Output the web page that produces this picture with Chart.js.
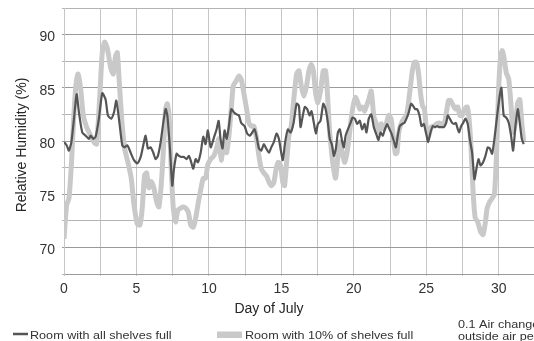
<!DOCTYPE html>
<html>
<head>
<meta charset="utf-8">
<script src="https://cdn.jsdelivr.net/npm/chart.js@4.4.1/dist/chart.umd.min.js"></script>
<style>
html,body{margin:0;padding:0;overflow:hidden;background:#fff;}
#wrap{width:540px;height:341px;position:relative;}
</style>
</head>
<body>
<div id="wrap"><canvas id="c"></canvas></div>
<script>
// ---- data ----
const seriesNames = ["Room with all shelves full", "Room with 10% of shelves full"];
const noteLines = ["0.1 Air changes of", "outside air per hour"];
const xTitle = "Day of July";
const yTitle = "Relative Humidity (%)";

const dayFull = [0.00,0.18,0.34,0.51,0.69,0.87,1.03,1.26,1.49,1.72,1.84,2.02,2.18,2.41,2.64,2.87,3.03,3.26,3.45,3.61,3.79,4.02,4.18,4.37,4.60,4.83,5.06,5.29,5.47,5.63,5.79,5.98,6.16,6.32,6.48,6.67,6.85,7.01,7.13,7.31,7.47,7.59,7.77,7.93,8.09,8.28,8.46,8.62,8.78,8.92,9.08,9.24,9.43,9.61,9.77,9.93,10.12,10.34,10.53,10.67,10.80,10.94,11.08,11.22,11.38,11.54,11.72,11.91,12.07,12.23,12.46,12.64,12.83,12.99,13.15,13.29,13.45,13.61,13.79,13.95,14.14,14.30,14.48,14.67,14.83,14.94,15.10,15.26,15.45,15.63,15.84,16.05,16.21,16.32,16.48,16.62,16.78,16.94,17.08,17.24,17.38,17.52,17.70,17.89,18.05,18.21,18.34,18.48,18.62,18.76,18.90,19.03,19.20,19.31,19.43,19.59,19.77,19.91,20.07,20.23,20.41,20.57,20.74,20.87,21.03,21.20,21.38,21.56,21.70,21.84,22.00,22.14,22.30,22.46,22.60,22.76,22.90,23.03,23.17,23.33,23.49,23.63,23.79,23.95,24.09,24.23,24.37,24.53,24.67,24.83,24.99,25.13,25.29,25.45,25.61,25.75,25.91,26.07,26.21,26.37,26.48,26.62,26.78,26.92,27.04,27.13,27.26,27.40,27.54,27.70,27.86,28.00,28.16,28.32,28.46,28.60,28.74,28.92,29.08,29.24,29.38,29.54,29.70,29.89,30.07,30.18,30.34,30.52,30.69,30.85,30.99,31.15,31.31,31.45,31.59,31.72];
const rhFull = [79.9,79.6,79.1,79.9,82.1,84.4,82.7,80.8,80.5,80.2,80.5,80.2,80.4,82.1,84.5,83.9,82.4,82.1,82.7,83.8,82.1,79.6,79.4,79.6,78.9,78.2,77.9,78.5,79.6,80.5,79.3,79.4,78.9,78.3,78.6,79.9,81.7,83.0,82.4,79.3,75.8,77.4,78.8,78.6,78.5,78.5,78.3,78.6,78.0,77.4,78.3,78.0,78.9,80.4,79.7,81.0,79.4,80.3,81.1,81.9,80.2,79.3,81.0,80.2,81.4,83.0,82.7,82.5,82.4,81.7,81.4,80.7,80.5,80.8,81.1,80.4,79.3,79.1,79.7,79.3,78.9,79.4,79.9,80.7,80.2,79.3,78.2,79.9,81.1,80.8,81.7,83.5,83.3,81.3,82.4,83.2,83.0,82.4,82.8,81.7,80.7,81.6,81.9,83.5,83.0,81.7,80.2,79.7,78.6,79.3,80.8,81.1,79.9,79.4,80.5,81.1,81.7,82.2,82.1,81.6,81.9,81.1,81.6,80.8,82.1,82.5,81.3,80.6,80.1,80.8,80.5,81.1,81.6,81.1,80.7,80.0,79.4,80.5,81.4,81.6,81.7,82.1,82.7,83.5,83.3,83.0,83.0,82.4,81.4,81.6,80.7,79.9,80.8,81.4,81.3,81.4,81.3,81.3,81.3,81.7,82.4,82.1,81.7,81.6,81.7,81.3,80.8,81.4,81.7,82.1,81.6,80.2,78.9,76.4,77.4,78.3,77.7,78.0,78.6,79.4,79.3,78.8,80.2,82.4,84.3,85.0,82.4,82.2,81.7,80.5,79.1,81.4,83.0,81.7,80.2,79.7];

const dayTen = [0.00,0.18,0.34,0.51,0.69,0.85,0.97,1.15,1.33,1.56,1.84,2.07,2.25,2.48,2.64,2.80,2.99,3.22,3.40,3.56,3.68,3.79,3.98,4.18,4.41,4.64,4.83,5.06,5.24,5.40,5.56,5.70,5.86,6.02,6.20,6.39,6.55,6.71,6.85,7.01,7.13,7.26,7.40,7.54,7.70,7.86,8.05,8.23,8.39,8.58,8.74,8.92,9.08,9.24,9.43,9.61,9.77,9.93,10.12,10.34,10.53,10.69,10.85,11.03,11.22,11.38,11.54,11.68,11.86,12.07,12.23,12.41,12.60,12.76,12.92,13.10,13.29,13.45,13.61,13.79,13.98,14.16,14.32,14.48,14.64,14.78,14.94,15.10,15.22,15.36,15.52,15.68,15.86,16.05,16.21,16.37,16.55,16.74,16.90,17.06,17.20,17.36,17.52,17.70,17.89,18.05,18.16,18.30,18.44,18.57,18.74,18.90,19.03,19.20,19.36,19.49,19.66,19.82,19.95,20.11,20.28,20.41,20.57,20.74,20.87,21.03,21.20,21.38,21.56,21.72,21.88,22.07,22.25,22.41,22.57,22.71,22.87,22.98,23.10,23.26,23.45,23.63,23.77,23.91,24.05,24.18,24.32,24.46,24.60,24.74,24.87,25.01,25.17,25.33,25.52,25.70,25.89,26.07,26.25,26.39,26.53,26.67,26.87,27.03,27.17,27.31,27.47,27.63,27.82,27.95,28.09,28.23,28.37,28.55,28.74,28.92,29.08,29.20,29.38,29.54,29.70,29.84,29.98,30.11,30.23,30.34,30.52,30.69,30.85,30.99,31.15,31.31,31.45,31.59,31.72];
const rhTen = [70.8,74.0,74.6,77.8,82.7,85.6,86.3,84.9,82.4,81.3,80.5,79.9,79.7,84.5,88.3,89.3,88.7,86.9,86.3,88.0,88.3,86.1,82.1,79.3,78.0,76.5,74.0,72.2,72.1,73.7,76.8,77.0,75.6,76.2,75.6,74.3,73.8,75.9,78.9,83.0,83.5,82.1,77.4,73.7,72.4,73.5,73.7,73.8,73.7,73.3,72.1,71.9,72.7,74.0,75.4,76.5,76.5,77.8,78.3,78.6,79.3,80.2,78.2,79.9,78.9,80.5,83.0,85.2,85.6,86.1,85.8,84.5,83.0,81.7,81.4,81.4,80.2,78.6,77.4,77.0,76.7,76.1,75.8,76.1,77.4,78.0,77.7,76.1,75.8,78.0,80.5,81.4,84.0,86.3,86.6,85.2,84.2,85.2,86.6,87.2,86.7,84.5,83.6,84.7,86.6,86.6,84.9,81.4,79.3,77.7,76.5,78.6,79.9,78.9,78.0,78.6,80.2,82.1,83.3,84.1,83.6,83.0,83.2,82.8,83.3,83.9,84.7,82.3,81.6,80.8,81.6,81.1,81.7,82.4,82.1,80.5,78.8,78.9,80.8,81.6,82.1,82.4,83.6,85.2,86.7,87.4,87.4,86.4,84.5,83.3,83.0,81.1,80.5,81.3,81.4,81.6,81.7,81.6,81.7,82.7,83.8,83.8,83.3,83.0,83.2,82.4,82.4,83.0,83.2,82.1,79.3,75.2,72.8,72.4,71.5,71.2,72.4,73.7,74.3,74.6,75.0,78.6,84.5,87.7,88.5,88.0,86.4,85.8,83.3,80.8,81.7,83.6,83.9,81.7,80.0];

const xTicksLabelled = [0,5,10,15,20,25,30];
const yTicksLabelled = [70,75,80,85,90];

// ---- chart ----
const toPts = (xs, ys) => xs.map((x, i) => ({x: x, y: ys[i]}));

const overlay = {
  id: 'overlay',
  afterDraw(chart) {
    const ctx = chart.ctx;
    ctx.save();
    // x title
    ctx.fillStyle = '#262626';
    ctx.font = '14px "Liberation Sans", Arial, sans-serif';
    ctx.textAlign = 'center';
    ctx.textBaseline = 'alphabetic';
    ctx.fillText(xTitle, 269, 313);
    // y title
    ctx.save();
    ctx.translate(26, 145);
    ctx.rotate(-Math.PI / 2);
    ctx.fillText(yTitle, 0, 0);
    ctx.restore();
    // legend
    const sx = 1.18;
    const txt = (s, x, y) => {
      ctx.save();
      ctx.translate(x, y);
      ctx.scale(sx, 1);
      ctx.fillText(s, 0, 0);
      ctx.restore();
    };
    ctx.textAlign = 'left';
    ctx.font = '10.7px "Liberation Sans", Arial, sans-serif';
    ctx.fillStyle = '#333';
    ctx.strokeStyle = chart.data.datasets[0].borderColor;
    ctx.lineWidth = 2.5;
    ctx.beginPath(); ctx.moveTo(13, 334); ctx.lineTo(28, 334); ctx.stroke();
    txt(seriesNames[0], 30, 338.5);
    ctx.fillStyle = chart.data.datasets[1].borderColor;
    ctx.fillRect(217, 331.5, 25, 6.5);
    ctx.fillStyle = '#333';
    txt(seriesNames[1], 245, 338.5);
    txt(noteLines[0], 458, 328);
    txt(noteLines[1], 458, 340);
    ctx.restore();
  }
};

new Chart(document.getElementById('c'), {
  type: 'line',
  data: {
    datasets: [
      {
        label: seriesNames[0],
        data: toPts(dayFull, rhFull),
        borderColor: '#555555',
        borderWidth: 2.2,
        pointRadius: 0,
        tension: 0.2,
        fill: false
      },
      {
        label: seriesNames[1],
        data: toPts(dayTen, rhTen),
        borderColor: '#c9c9c9',
        borderWidth: 5,
        pointRadius: 0,
        tension: 0.2,
        fill: false
      }
    ]
  },
  options: {
    responsive: true,
    maintainAspectRatio: false,
    devicePixelRatio: 1,
    animation: false,
    layout: { padding: { top: 8, right: 5, left: 0, bottom: 0 } },
    plugins: { legend: { display: false }, tooltip: { enabled: false } },
    scales: {
      x: {
        type: 'linear',
        min: 0,
        max: 32.5,
        afterFit: s => { s.height = 67; s.paddingLeft = 0; s.paddingRight = 0; },
        border: { display: true, color: '#9a9a9a' },
        grid: { color: '#c6c6c6', lineWidth: 1, tickLength: 2, drawTicks: true },
        ticks: {
          stepSize: 2.5,
          autoSkip: false,
          maxRotation: 0,
          padding: 5,
          color: '#333',
          font: { family: '"Liberation Sans", Arial, sans-serif', size: 14 },
          callback: v => xTicksLabelled.includes(v) ? String(v) : ''
        }
      },
      y: {
        min: 67.5,
        max: 92.5,
        afterFit: s => { s.width = 64; s.paddingTop = 0; s.paddingBottom = 0; },
        border: { display: true, color: '#c6c6c6' },
        grid: {
          color: ctx => (ctx.tick && ctx.tick.value % 5 === 0) ? '#9a9a9a' : '#b4b4b4',
          lineWidth: 1, tickLength: 2, drawTicks: true
        },
        ticks: {
          stepSize: 2.5,
          autoSkip: false,
          padding: 7,
          labelOffset: 3,
          color: '#333',
          font: { family: '"Liberation Sans", Arial, sans-serif', size: 14 },
          callback: v => yTicksLabelled.includes(v) ? String(v) : ''
        }
      }
    }
  },
  plugins: [overlay]
});
</script>
</body>
</html>
